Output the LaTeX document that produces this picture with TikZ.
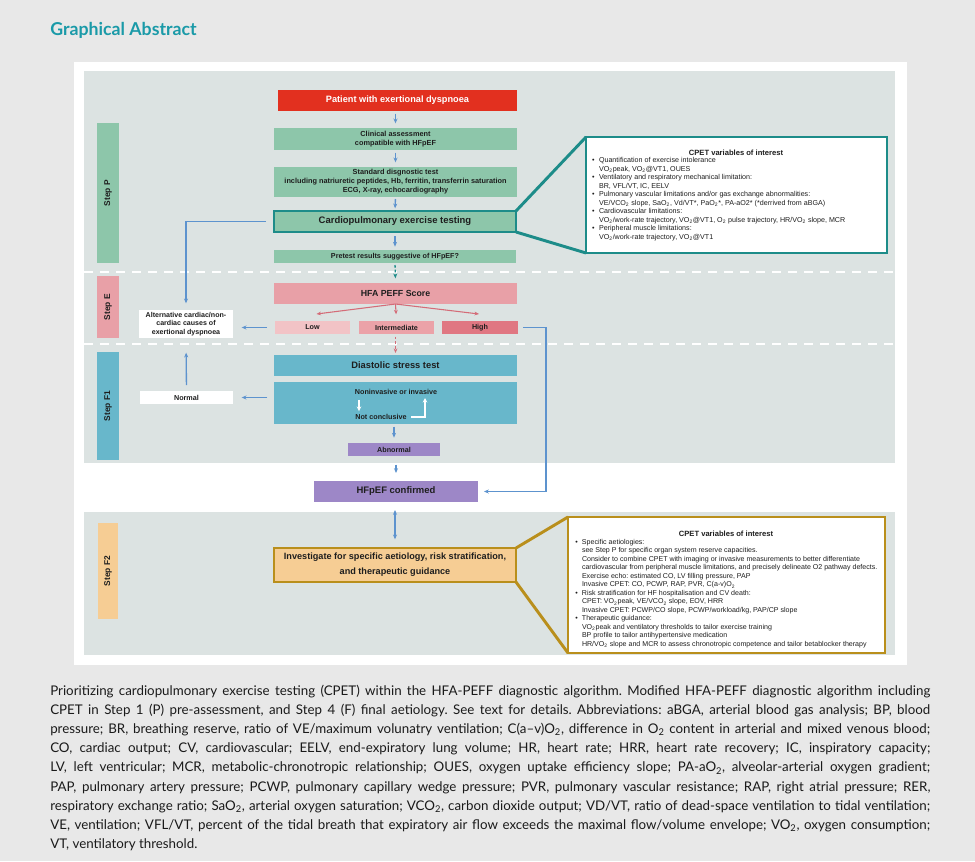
\documentclass[tikz,border=0pt]{standalone}
\usepackage{fontspec}
\setmainfont{Liberation Sans}
\newfontfamily\capfont{Lato}
\usetikzlibrary{arrows.meta}
\definecolor{outerbg}{HTML}{E8E8E8}
\definecolor{panel}{HTML}{DCE3E2}
\definecolor{cgreen}{HTML}{8DC6AA}
\definecolor{cred}{HTML}{E2301F}
\definecolor{cpink}{HTML}{E8A0A7}
\definecolor{clow}{HTML}{F2C3C6}
\definecolor{cmid}{HTML}{EBA2A8}
\definecolor{chigh}{HTML}{E07782}
\definecolor{cteal}{HTML}{68B7CB}
\definecolor{cpurple}{HTML}{9D87C7}
\definecolor{corange}{HTML}{F6CD94}
\definecolor{cgold}{HTML}{B98F1C}
\definecolor{cdteal}{HTML}{1D8C89}
\definecolor{cblue}{HTML}{5D93CE}
\definecolor{carrred}{HTML}{D46C78}
\definecolor{ctitle}{HTML}{1A9AA8}
\definecolor{txt}{HTML}{1E1E1E}
\definecolor{captxt}{HTML}{1A1A1A}
\newcommand\mybox[7]{\node[#6,minimum width={(#4-#2)*0.75pt},minimum height={(#5-#3)*0.75pt}] (#1) at ({(#2+#4)/2},{(#3+#5)/2}) {#7};}
\newcommand\bul{\llap{\textbullet\hspace{3.2pt}}}
\newcommand\ssb[1]{\textsubscript{#1}}
\frenchspacing
\begin{document}
\begin{tikzpicture}[x=0.75pt,y=-0.75pt,
  box/.style={inner sep=0pt,outer sep=0pt,align=center,text=txt},
  bxs/.style={box,font=\bfseries\fontsize{5.4}{6.6}\selectfont},
  steplbl/.style={rotate=90,inner sep=0pt,text=txt,font=\bfseries\fontsize{6.3}{7}\selectfont},
  arr/.style={draw=cblue,line width=1pt,-{Stealth[length=3.6pt,width=3pt]}},
  rarr/.style={draw=carrred,line width=0.8pt,-{Stealth[length=3.4pt,width=2.8pt]}},
  warr/.style={draw=white,line width=1.3pt,-{Stealth[length=3.4pt,width=3.4pt]}},
  sepline/.style={white,line width=1.4pt,dash pattern=on 7pt off 5pt},
  cvtitle/.style={box,font=\bfseries\fontsize{5.7}{7}\selectfont},
  cvbody/.style={inner sep=0pt,outer sep=0pt,align=left,anchor=north west,text=txt}
]
\useasboundingbox (0,0) rectangle (975,861);
\fill[outerbg] (0,0) rectangle (975,861);
\fill[white] (74,62) rectangle (907,665);
\fill[panel] (84,71) rectangle (895,463);
\fill[panel] (84,512) rectangle (895,655);
\draw[sepline] (84,272) -- (895,272);
\draw[sepline] (84,344) -- (895,344);

\node[anchor=base west,inner sep=0pt,text=ctitle,font=\capfont\bfseries\fontsize{13.3}{16}\selectfont] (title) at (50,35) {Graphical Abstract};

% step bars
\mybox{stP}{97}{123}{119}{263}{box,fill=cgreen}{}
\mybox{stE}{97}{276}{119}{338}{box,fill=cpink}{}
\mybox{stF}{97}{352}{119}{460}{box,fill=cteal}{}
\mybox{stG}{98}{523}{118}{619}{box,fill=corange}{}
\node[steplbl] (lP) at (stP) {Step P};
\node[steplbl] (lE) at (stE) {Step E};
\node[steplbl] (lF) at (stF) {Step F1};
\node[steplbl] (lG) at (stG) {Step F2};

% flow boxes
\mybox{pat}{278}{90}{517}{111}{box,fill=cred,text=white,font=\bfseries\fontsize{6.9}{8}\selectfont}{Patient with exertional dyspnoea}
\mybox{cli}{274}{128}{517}{150}{box,fill=cgreen,font=\bfseries\fontsize{5.5}{7}\selectfont}{Clinical assessment\\compatible with HFpEF}
\mybox{std}{274}{167}{517}{197}{box,fill=cgreen,font=\bfseries\fontsize{5.5}{6.75}\selectfont}{Standard disgnostic test\\including natriuretic peptides, Hb, ferritin, transferrin saturation\\ECG, X-ray, echocardiography}
\mybox{cpet}{274}{211}{516}{232}{box,fill=cgreen,draw=cdteal,line width=2.2pt,font=\bfseries\fontsize{7.1}{8}\selectfont}{Cardiopulmonary exercise testing}
\mybox{pre}{274}{250}{516}{263}{bxs,fill=cgreen}{Pretest results suggestive of HFpEF?}
\mybox{hfa}{274}{283}{517}{304}{box,fill=cpink,font=\bfseries\fontsize{6.6}{8}\selectfont}{HFA PEFF Score}
\mybox{low}{275}{321}{350}{334}{bxs,fill=clow}{Low}
\mybox{mid}{359}{321}{434}{334}{bxs,fill=cmid}{Intermediate}
\mybox{high}{442}{321}{518}{334}{bxs,fill=chigh}{High}
\mybox{alt}{139}{310}{233}{338}{box,fill=white,font=\bfseries\fontsize{5.3}{6.4}\selectfont}{Alternative cardiac/non-\\cardiac causes of\\exertional dyspnoea}
\mybox{dst}{274}{355}{517}{376}{box,fill=cteal,font=\bfseries\fontsize{7}{8}\selectfont}{Diastolic stress test}
\mybox{f1b}{274}{382}{517}{424}{box,fill=cteal}{}
\node[bxs] (nonin) at (396,392) {Noninvasive or invasive};
\node[bxs] (notc) at (381,417) {Not conclusive};
\mybox{nrm}{140}{391}{233}{404}{bxs,fill=white}{Normal}
\mybox{abn}{348}{443}{440}{456}{bxs,fill=cpurple}{Abnormal}
\mybox{hfp}{314}{481}{478}{502}{box,fill=cpurple,font=\bfseries\fontsize{7.1}{8}\selectfont}{HFpEF confirmed}
\mybox{inv}{274}{548}{516}{582}{box,fill=corange,draw=cgold,line width=2.2pt,font=\bfseries\fontsize{6.85}{11.25}\selectfont}{Investigate for specific aetiology, risk stratification,\\and therapeutic guidance}

% callout 1
\mybox{cv1}{586}{137}{887}{253}{box,fill=white,draw=cdteal,line width=2.2pt}{}
\draw[cdteal,line width=2.2pt] (cpet.north east) -- (cv1.north west);
\draw[cdteal,line width=2.2pt] (cpet.south east) -- (cv1.south west);
\node[cvtitle] (cv1t) at (736,153) {CPET variables of interest};
\node[cvbody,font=\fontsize{5.35}{6.4}\selectfont] (cv1b) at (599,157.5) {%
\bul Quantification of exercise intolerance\\
VO\ssb{2}peak, VO\ssb{2}@VT1, OUES\\
\bul Ventilatory and respiratory mechanical limitation:\\
BR, VFL/VT, IC, EELV\\
\bul Pulmonary vascular limitations and/or gas exchange abnormalities:\\
VE/VCO\ssb{2} slope, SaO\ssb{2}, Vd/VT*, PaO\ssb{2}*, PA-aO2* (*derrived from aBGA)\\
\bul Cardiovascular limitations:\\
VO\ssb{2}/work-rate trajectory, VO\ssb{2}@VT1, O\ssb{2} pulse trajectory, HR/VO\ssb{2} slope, MCR\\
\bul Peripheral muscle limitations:\\
VO\ssb{2}/work-rate trajectory, VO\ssb{2}@VT1};

% callout 2
\mybox{cv2}{568}{517}{885}{653}{box,fill=white,draw=cgold,line width=2.2pt}{}
\draw[cgold,line width=2.2pt] (inv.north east) -- (cv2.north west);
\draw[cgold,line width=2.2pt] (inv.south east) -- (cv2.south west);
\node[cvtitle] (cv2t) at (726,534) {CPET variables of interest};
\node[cvbody,font=\fontsize{5.3}{6.4}\selectfont] (cv2b) at (582,539) {%
\bul Specific aetiologies:\\
see Step P for specific organ system reserve capacities.\\
Consider to combine CPET with imaging or invasive measurements to better differentiate\\
cardiovascular from peripheral muscle limitations, and precisely delineate O2 pathway defects.\\
Exercise echo: estimated CO, LV filling pressure, PAP\\
Invasive CPET: CO, PCWP, RAP, PVR, C(a-v)O\ssb{2}\\
\bul Risk stratification for HF hospitalisation and CV death:\\
CPET: VO\ssb{2}peak, VE/VCO\ssb{2} slope, EOV, HRR\\
Invasive CPET: PCWP/CO slope, PCWP/workload/kg, PAP/CP slope\\
\bul Therapeutic guidance:\\
VO\ssb{2}peak and ventilatory thresholds to tailor exercise training\\
BP profile to tailor antihypertensive medication\\
HR/VO\ssb{2} slope and MCR to assess chronotropic competence and tailor betablocker therapy};

% main vertical arrows
\draw[arr,shorten <=2pt,shorten >=3.5pt] (cli.north |- pat.south) -- (cli.north);
\draw[arr,shorten <=2pt,shorten >=3.5pt] (cli.south) -- (std.north);
\draw[arr,shorten <=1.5pt,shorten >=2pt] (std.south) -- (cpet.north);
\draw[arr,shorten <=3pt,shorten >=2.5pt] (cpet.south) -- (pre.north);
\draw[arr,draw=cdteal,dash pattern=on 2pt off 1.5pt,shorten <=1.5pt,shorten >=3.5pt] (pre.south) -- (hfa.north);
\draw[rarr] (hfa.south) -- ([shift={(4,-7)}]low.north);
\draw[rarr,shorten >=5pt] (hfa.south) -- (mid.north);
\draw[rarr] (hfa.south) -- ([shift={(-1,-7)}]high.north);
\draw[rarr,dash pattern=on 2pt off 1.5pt,shorten <=2pt,shorten >=1.5pt] (dst.north |- mid.south) -- (dst.north);
\draw[arr,shorten <=2pt,shorten >=4pt] (abn.north |- f1b.south) -- (abn.north);
\draw[arr,shorten <=6.5pt,shorten >=6pt] (hfp.north |- abn.south) -- (hfp.north);
\draw[arr,{Stealth[length=3.6pt,width=3pt]}-{Stealth[length=3.6pt,width=3pt]},shorten <=6pt,shorten >=6.5pt] (inv.north |- hfp.south) -- (inv.north);

% side connectors
\draw[arr,shorten <=6pt,shorten >=5pt] (cpet.west) -| (alt.north);
\draw[arr,shorten <=6pt,shorten >=6.5pt] (low.west) -- (low.west -| alt.east);
\draw[arr,shorten <=5pt,shorten >=6.5pt] (f1b.west |- nrm.east) -- (nrm.east);
\draw[arr,shorten <=4.5pt,shorten >=11pt] (nrm.north) -- (alt.south);
\draw[arr,shorten <=4pt,shorten >=4.5pt] (high.east) -- ++(28,0) |- (hfp.east);

% white loop inside F1 box
\coordinate (dnx) at (359,0);
\coordinate (lpx) at (425,398);
\draw[warr,shorten <=4pt,shorten >=2.5pt] (nonin.south -| dnx) -- (notc.north -| dnx);
\draw[warr,shorten <=3.5pt] (notc.east) -| (lpx);

% caption
\node[anchor=north west,inner sep=0pt,align=left,text=captxt,font=\capfont\fontsize{10}{14.4}\selectfont] (cap) at (50,684.5) {%
\makebox[660pt][s]{Prioritizing cardiopulmonary exercise testing (CPET) within the HFA-PEFF diagnostic algorithm. Modified HFA-PEFF diagnostic algorithm including}\\
\makebox[660pt][s]{CPET in Step 1 (P) pre-assessment, and Step 4 (F) final aetiology. See text for details. Abbreviations: aBGA, arterial blood gas analysis; BP, blood}\\
\makebox[660pt][s]{pressure; BR, breathing reserve, ratio of VE/maximum volunatry ventilation; C(a–v)O\ssb{2}, difference in O\ssb{2} content in arterial and mixed venous blood;}\\
\makebox[660pt][s]{CO, cardiac output; CV, cardiovascular; EELV, end-expiratory lung volume; HR, heart rate; HRR, heart rate recovery; IC, inspiratory capacity;}\\
\makebox[660pt][s]{LV, left ventricular; MCR, metabolic-chronotropic relationship; OUES, oxygen uptake efficiency slope; PA-aO\ssb{2}, alveolar-arterial oxygen gradient;}\\
\makebox[660pt][s]{PAP, pulmonary artery pressure; PCWP, pulmonary capillary wedge pressure; PVR, pulmonary vascular resistance; RAP, right atrial pressure; RER,}\\
\makebox[660pt][s]{respiratory exchange ratio; SaO\ssb{2}, arterial oxygen saturation; VCO\ssb{2}, carbon dioxide output; VD/VT, ratio of dead-space ventilation to tidal ventilation;}\\
\makebox[660pt][s]{VE, ventilation; VFL/VT, percent of the tidal breath that expiratory air flow exceeds the maximal flow/volume envelope; VO\ssb{2}, oxygen consumption;}\\
VT, ventilatory threshold.};
\end{tikzpicture}
\end{document}
